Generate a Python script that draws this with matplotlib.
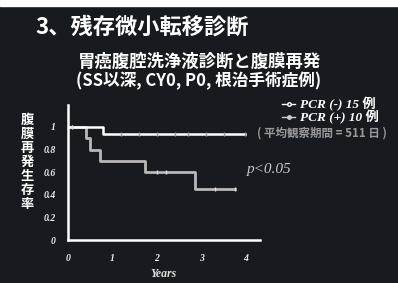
import matplotlib.pyplot as plt
from matplotlib.lines import Line2D
from matplotlib.patches import Rectangle

# ---- data ----
neg_years = [0, 0.79, 3.98]
neg_surv = [1.0, 0.94, 0.94]
neg_censor_years = [0.1, 1.2, 1.6, 2.0, 2.4, 2.7, 3.1, 3.5, 3.98]

pos_years = [0, 0.4, 0.5, 0.72, 1.73, 2.85, 3.75]
pos_surv = [1.0, 0.9, 0.8, 0.7, 0.6, 0.45, 0.45]
pos_censor_years = [0.1, 2.0, 2.2, 3.3, 3.75]

x_ticks = [0, 1, 2, 3, 4]
y_ticks = [0, 0.2, 0.4, 0.6, 0.8, 1]
y_tick_labels = ['0', '0.2', '0.4', '0.6', '0.8', '1']

title = '3、残存微小転移診断'
subtitle1 = '胃癌腹腔洗浄液診断と腹膜再発'
subtitle2 = '(SS以深, CY0, P0, 根治手術症例)'
ylabel = '腹膜再発生存率'
legend_labels = ['PCR (-) 15 例', 'PCR (+) 10 例']
note = '( 平均観察期間 = 511 日 )'

BG = '#171b1f'
cjk = ['Noto Sans CJK JP', 'DejaVu Sans']
serif = ['Liberation Serif', 'Noto Sans CJK JP']
plt.rcParams['font.family'] = cjk


def surv_at(years, surv, t):
    val = surv[0]
    for y, s in zip(years, surv):
        if t >= y:
            val = s
    return val


fig = plt.figure(figsize=(3.98, 2.83), dpi=100, facecolor=BG)
fig.patches.append(Rectangle((0, 1 - 6 / 283), 1, 6 / 283, transform=fig.transFigure,
                             color='white', zorder=0))

ax = fig.add_axes([68 / 398, 43 / 283, 192 / 398, 135 / 283])
ax.set_facecolor(BG)

# curves
ax.step(neg_years, neg_surv, where='post', color='white', lw=1.8, zorder=3)
ax.step(pos_years, pos_surv, where='post', color='#b8b8b8', lw=2.0, zorder=2)
ax.plot(neg_censor_years, [surv_at(neg_years, neg_surv, t) for t in neg_censor_years],
        ls='none', marker='|', ms=3, color='#9a9a9a', mew=1, zorder=4)
ax.plot(pos_censor_years, [surv_at(pos_years, pos_surv, t) for t in pos_censor_years],
        ls='none', marker='|', ms=3, color='#dddddd', mew=1, zorder=4)

ax.set_xlim(0, 192 / 44.5)
ax.set_ylim(0, 135 / 113)
ax.set_xticks(x_ticks)
ax.set_yticks(y_ticks)
ax.set_yticklabels(y_tick_labels)
ax.tick_params(length=0, colors='#e8e8e8', labelsize=7)
ax.tick_params(axis='y', pad=9)
ax.tick_params(axis='x', pad=10)
for lab in ax.get_xticklabels() + ax.get_yticklabels():
    lab.set_family(serif)
    lab.set_weight('bold')
    lab.set_style('italic')
for side in ['top', 'right']:
    ax.spines[side].set_visible(False)
for side in ['left', 'bottom']:
    ax.spines[side].set_color('white')
    ax.spines[side].set_linewidth(1.8)

ax.set_xlabel('Years', family=serif, weight='bold', style='italic', color='#e0e0e0',
              fontsize=8.5, labelpad=4)

# titles
fig.text(35 / 398, 1 - 27 / 283, title, color='white', fontsize=16, va='center', ha='left',
         weight='bold')
fig.text(200 / 398, 1 - 62 / 283, subtitle1, color='white', fontsize=12.5, va='center',
         ha='center', weight='bold')
fig.text(199 / 398, 1 - 81 / 283, subtitle2, color='white', fontsize=12, va='center',
         ha='center', weight='bold')

# vertical stacked y label
fig.text(27 / 398, 1 - 162 / 283, '\n'.join(ylabel), color='white', fontsize=9.5,
         weight='bold', ha='center', va='center', linespacing=1.0)

# legend
handles = [Line2D([], [], color='white', lw=1, marker='o', ms=2.5, mfc=BG, mec='white'),
           Line2D([], [], color='#cccccc', lw=1, marker='o', ms=2.5)]
leg = ax.legend(handles, legend_labels, loc='upper left',
                bbox_to_anchor=(282 / 398, 1 - 97 / 283), bbox_transform=fig.transFigure,
                frameon=False, handlelength=1.0, handletextpad=0.4, labelspacing=-0.05,
                borderpad=0, borderaxespad=0,
                prop={'family': serif, 'weight': 'bold', 'style': 'italic', 'size': 9.5})
for t in leg.get_texts():
    t.set_color('white')

fig.text(322 / 398, 1 - 133 / 283, note, color='#9a9a9a', fontsize=8.3, va='center',
         ha='center', weight='bold', style='italic')
fig.text(247 / 398, 1 - 170 / 283, 'p<0.05', color='#c8c8c8', fontsize=11, va='center',
         ha='left', family=serif, style='italic')

fig.savefig('out.png', dpi=100, facecolor=BG)
